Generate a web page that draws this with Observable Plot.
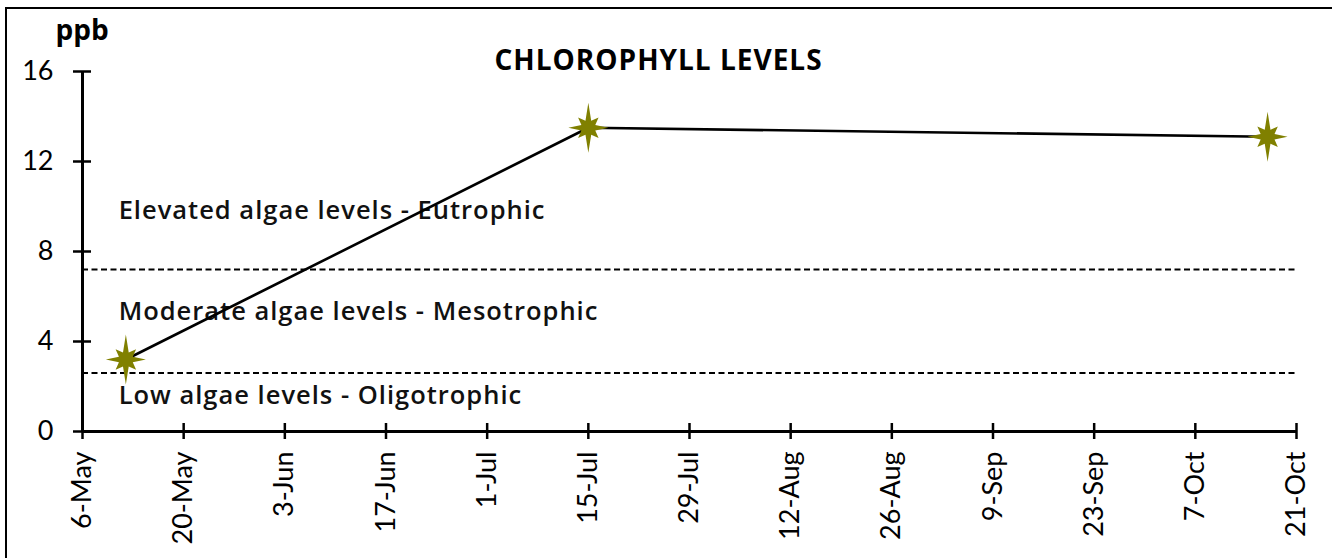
<!DOCTYPE html>
<html><head><meta charset="utf-8">
<script src="https://cdn.jsdelivr.net/npm/d3@7"></script>
<script src="https://cdn.jsdelivr.net/npm/@observablehq/plot@0.6"></script>
<style>
html,body{margin:0;padding:0;background:#fff;width:1332px;height:558px;overflow:hidden;}
#wrap{position:relative;width:1332px;height:558px;}
#wrap svg{position:absolute;left:0;top:0;overflow:visible;}
#border{position:absolute;left:5px;top:7px;width:1400px;height:600px;border-left:2.5px solid #000;border-top:2.5px solid #000;pointer-events:none;}
</style></head><body>
<div id="wrap"><div id="border"></div></div>
<script>
// Data
const sampleDates = ["2019-05-12", "2019-07-15", "2019-10-17"];
const chlorophyll = [3.2, 13.5, 13.1];
const thresholds = [2.6, 7.2];
const zoneLabels = ["Low algae levels - Oligotrophic", "Moderate algae levels - Mesotrophic", "Elevated algae levels - Eutrophic"];
const zoneLabelY = [1.6, 5.3, 9.8];
const zoneLabelDate = "2019-05-11";
const xTickDates = ["2019-05-06","2019-05-20","2019-06-03","2019-06-17","2019-07-01","2019-07-15","2019-07-29","2019-08-12","2019-08-26","2019-09-09","2019-09-23","2019-10-07","2019-10-21"];
const yTicks = [0, 4, 8, 12, 16];
const title = "CHLOROPHYLL LEVELS";
const unitLabel = "ppb";

const parse = d3.utcParse("%Y-%m-%d");
const points = sampleDates.map((d, i) => ({date: parse(d), value: chlorophyll[i]}));
const xTicks = xTickDates.map(parse);
const zones = zoneLabels.map((t, i) => ({text: t, y: zoneLabelY[i], date: parse(zoneLabelDate)}));

const star = {
  draw(context, size) {
    const s = Math.sqrt(size / Math.PI);
    const outer = [1.0, 0.58, 0.8, 0.58, 1.0, 0.58, 0.8, 0.58];
    const inner = 0.3;
    for (let k = 0; k < 8; k++) {
      const a = -Math.PI / 2 + k * Math.PI / 4;
      const ro = outer[k] * s;
      const x = ro * Math.cos(a), y = ro * Math.sin(a);
      if (k === 0) context.moveTo(x, y); else context.lineTo(x, y);
      const b = a + Math.PI / 8;
      context.lineTo(inner * s * Math.cos(b), inner * s * Math.sin(b));
    }
    context.closePath();
  }
};

const font = "Lato, 'Open Sans', sans-serif";
const boldFont = "'Open Sans', Lato, sans-serif";
const chart = Plot.plot({
  width: 1332,
  height: 558,
  marginLeft: 82,
  marginRight: 36,
  marginTop: 71,
  marginBottom: 127,
  style: {fontFamily: font, background: "transparent", color: "#000"},
  x: {type: "utc", domain: [xTicks[0], xTicks[xTicks.length - 1]], label: null},
  y: {domain: [0, 16], label: null},
  marks: [
    Plot.ruleY(thresholds, {stroke: "#000", strokeWidth: 2, strokeDasharray: "6,3.5"}),
    Plot.text(zones, {x: "date", y: "y", text: "text", textAnchor: "start", fontSize: 25.5, fontWeight: 600, fontFamily: boldFont, fill: "#111"}),
    Plot.line(points, {x: "date", y: "value", stroke: "#000", strokeWidth: 2.6}),
    Plot.ruleY([0], {stroke: "#000", strokeWidth: 3}),
    Plot.ruleX([xTicks[0]], {stroke: "#000", strokeWidth: 3}),
    Plot.ruleX(xTicks, {x: d => d, y1: 0, y2: 0, insetTop: -8, insetBottom: -8, stroke: "#000", strokeWidth: 2.5}),
    Plot.ruleY(yTicks, {y: d => d, x1: xTicks[0], x2: xTicks[0], insetLeft: -9, insetRight: -9, stroke: "#000", strokeWidth: 2.5}),
    Plot.axisX({ticks: xTicks, tickSize: 0, tickPadding: 20, tickRotate: -90, tickFormat: d3.utcFormat("%-d-%b"), fontSize: 27, label: null}),
    Plot.axisY({ticks: yTicks, tickSize: 0, tickPadding: 29, fontSize: 27, label: null}),
    Plot.dot(points, {x: "date", y: "value", symbol: star, r: 25, fill: "#808000", stroke: "none"}),
    Plot.text([title], {frameAnchor: "top", dx: -31, dy: -2, lineAnchor: "bottom", fontSize: 28, fontWeight: "bold", fontFamily: boldFont}),
    Plot.text([unitLabel], {frameAnchor: "top-left", dx: -27, dy: -32, lineAnchor: "bottom", textAnchor: "start", fontSize: 28, fontWeight: "bold", fontFamily: boldFont})
  ]
});
d3.select(chart).selectAll("text").each(function () {
  const t = this.textContent;
  if (zoneLabels.includes(t) || t === title) this.style.letterSpacing = "1px";
});
document.getElementById("wrap").appendChild(chart);
</script>
</body></html>
